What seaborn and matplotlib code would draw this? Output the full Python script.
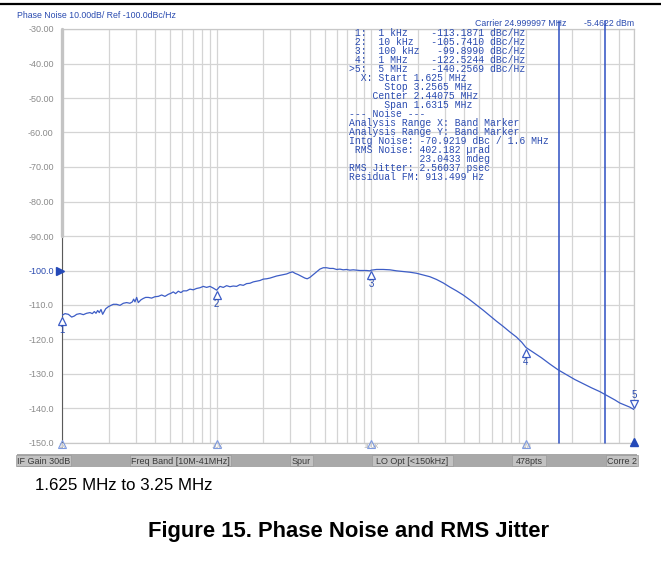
import numpy as np
import pandas as pd
import matplotlib
matplotlib.use("Agg")
import matplotlib.pyplot as plt
import matplotlib.transforms as mtransforms
from matplotlib.patches import Rectangle
from matplotlib.lines import Line2D
from matplotlib.ticker import LogLocator, NullFormatter, FixedLocator
import seaborn as sns

# ---------------- data ----------------
freq_hz = [1000, 1046, 1099, 1155, 1201, 1244, 1307, 1374, 1443, 1517, 1570, 1618, 1659, 1701,
           1743, 1787, 1832, 1878, 1916, 1993, 2074, 2147, 2256, 2371, 2491, 2618, 2751, 2849,
           2906, 2964, 3039, 3115, 3241, 3355, 3474, 3614, 3798, 3992, 4195, 4409, 4633, 4868,
           5064, 5245, 5430, 5649, 5877, 6085, 6395, 6720, 7062, 7422, 7799, 8196, 8613, 9051,
           9511, 10000, 10503, 11038, 11600, 12190, 12810, 13462, 14148, 14868, 15624, 16420,
           17255, 18134, 19057, 20026, 21045, 22116, 23241, 24424, 25666, 26972, 28345, 29787,
           30985, 32075, 33703, 35418, 37220, 38527, 40107, 42142, 44287, 46530, 48898, 51384,
           54003, 56749, 59640, 62661, 65846, 69200, 72710, 76420, 80300, 84390, 88670, 93200,
           97930, 100000, 108180, 119440, 131900, 145690, 160880, 177650, 196170, 216640,
           239210, 264200, 291740, 322210, 355800, 392900, 433900, 479200, 529000, 584300,
           645200, 712500, 786900, 869000, 940000, 1000000, 1113800, 1261000, 1427000,
           1616000, 1829000, 2071000, 2344000, 2654000, 3004000, 3237000, 3486000, 3755000,
           4046000, 4358000, 4694000, 5000000]
noise_dbc = [-113.0, -112.5, -112.7, -113.5, -113.2, -112.7, -112.5, -112.8, -112.4, -112.2,
             -112.5, -111.9, -112.4, -111.6, -112.2, -111.3, -112.7, -111.8, -111.1, -110.5,
             -110.1, -109.8, -109.8, -110.1, -109.5, -109.3, -109.5, -109.1, -108.3, -109.1,
             -107.8, -109.3, -108.5, -108.1, -107.8, -107.8, -108.0, -107.6, -107.5, -107.1,
             -107.5, -106.9, -106.6, -106.2, -106.7, -106.0, -106.4, -105.9, -105.9, -105.4,
             -105.6, -105.2, -105.0, -104.6, -104.9, -104.6, -105.1, -105.7, -104.6, -104.9,
             -104.4, -104.7, -104.5, -104.6, -104.1, -104.3, -103.8, -103.7, -103.3, -103.1,
             -102.9, -102.5, -102.4, -102.2, -101.9, -101.6, -101.4, -101.2, -101.0, -100.6,
             -100.4, -100.8, -101.2, -101.7, -102.2, -102.4, -102.0, -101.2, -100.4, -99.6,
             -99.2, -99.2, -99.4, -99.4, -99.7, -99.6, -99.8, -99.7, -99.9, -99.8, -99.9,
             -100.0, -100.0, -100.0, -100.1, -99.9, -99.7, -99.7, -99.8, -100.1, -100.3,
             -100.5, -100.8, -101.3, -101.8, -102.6, -103.6, -104.8, -105.9, -107.1, -108.5,
             -110.0, -111.5, -113.1, -114.7, -116.2, -117.8, -119.3, -120.8, -122.3, -123.7,
             -125.3, -127.1, -128.8, -130.2, -131.6, -132.8, -134.0, -135.1, -135.9, -136.7,
             -137.5, -138.4, -139.0, -139.6, -140.3]

marker_ids = ["1", "2", "3", "4", "5"]
marker_freq = [1e3, 1e4, 1e5, 1e6, 5e6]
marker_dbc = [-113.1871, -105.7410, -99.8990, -122.5244, -140.2569]

band_edges_hz = [1.625e6, 3.2565e6]

y_ticks = [-30, -40, -50, -60, -70, -80, -90, -100, -110, -120, -130, -140, -150]
y_tick_labels = ["-30.00", "-40.00", "-50.00", "-60.00", "-70.00", "-80.00", "-90.00",
                 "-100.0", "-110.0", "-120.0", "-130.0", "-140.0", "-150.0"]
x_ticks = [1e3, 1e4, 1e5, 1e6]
x_tick_labels = ["1k", "10k", "100k", "1M"]

readout_lines = [
    " 1:  1 kHz    -113.1871 dBc/Hz",
    " 2:  10 kHz   -105.7410 dBc/Hz",
    " 3:  100 kHz   -99.8990 dBc/Hz",
    " 4:  1 MHz    -122.5244 dBc/Hz",
    ">5:  5 MHz    -140.2569 dBc/Hz",
    "  X: Start 1.625 MHz",
    "      Stop 3.2565 MHz",
    "    Center 2.44075 MHz",
    "      Span 1.6315 MHz",
    "--- Noise ---",
    "Analysis Range X: Band Marker",
    "Analysis Range Y: Band Marker",
    "Intg Noise: -70.9219 dBc / 1.6 MHz",
    " RMS Noise: 402.182 \u00b5rad",
    "            23.0433 mdeg",
    "RMS Jitter: 2.56037 psec",
    "Residual FM: 913.499 Hz",
]

status_items = ["IF Gain 30dB", "Freq Band [10M-41MHz]", "Spur", "LO Opt [<150kHz]", "478pts", "Corre 2"]
status_x_px = [17, 131, 291, 373, 513, 607]
status_w_px = [53, 99, 21, 79, 32, 30]

# ---------------- style ----------------
sns.set_style("white")
plt.rcParams['font.family'] = ['Liberation Sans', 'DejaVu Sans']

W, H = 661, 563
fig = plt.figure(figsize=(W / 100, H / 100), dpi=100)
fig.patch.set_facecolor("white")

L, R, T, B = 62, 634, 29, 443
ax = fig.add_axes([L / W, 1 - B / H, (R - L) / W, (B - T) / H])

TXTBLUE = "#2a4bb0"
GRID = "#d4d4d4"

ax.set_xscale("log")
ax.set_xlim(1e3, 5e6)
ax.set_ylim(-150, -30)

df = pd.DataFrame({"freq_hz": freq_hz, "noise_dbc": noise_dbc})
sns.lineplot(data=df, x="freq_hz", y="noise_dbc", ax=ax, color="#3d5dc6",
             linewidth=0.9, estimator=None, sort=False, zorder=5)
ax.set_xlabel("")
ax.set_ylabel("")

# grid
ax.xaxis.set_major_locator(FixedLocator(x_ticks))
ax.xaxis.set_minor_locator(LogLocator(base=10, subs=np.arange(2, 10)))
ax.xaxis.set_minor_formatter(NullFormatter())
ax.set_xticklabels(x_tick_labels)
ax.set_yticks(y_ticks)
ax.set_yticklabels(y_tick_labels)
ax.grid(True, which="both", axis="x", color=GRID, linewidth=0.9)
ax.grid(True, which="major", axis="y", color=GRID, linewidth=0.9)
ax.set_axisbelow(True)

ax.tick_params(axis="y", length=0, pad=6, labelsize=6.5, labelcolor="#8a8a8a")
ax.tick_params(axis="x", which="both", length=0, pad=0, labelsize=5, labelcolor="#b0b0b0")
for lbl in ax.get_yticklabels():
    if lbl.get_text() == "-100.0":
        lbl.set_color(TXTBLUE)

for s in ["top", "right", "bottom"]:
    ax.spines[s].set_color("#c8c8c8")
    ax.spines[s].set_linewidth(0.9)
ax.spines["left"].set_color("#5a5a5a")
ax.spines["left"].set_linewidth(0.8)
# thick light left edge in upper part
ax.axvline(1e3, ymin=0.5, ymax=1.0, color="#c4c4c4", linewidth=2.4, zorder=6, clip_on=False)

# band marker lines
for bx in band_edges_hz:
    ax.axvline(bx, ymin=0, ymax=1 + 8 / (B - T), color="#2e4fc2", linewidth=1.1,
               clip_on=False, zorder=4)

# reference level arrow on left
ax.plot([1e3], [-100], marker=">", color="#2449b8", markersize=5.5, clip_on=False,
        transform=mtransforms.offset_copy(ax.transData, fig, x=-2.5, y=0, units="dots"),
        zorder=7)

# bottom axis decade markers
for xt in x_ticks:
    ax.plot([xt], [-150], marker="^", markersize=5.5, markerfacecolor="none",
            markeredgecolor="#7f9be0", markeredgewidth=0.8, clip_on=False, zorder=7,
            transform=mtransforms.offset_copy(ax.transData, fig, x=0, y=-1, units="dots"))
ax.plot([5e6], [-150], marker="^", markersize=5.5, color="#2449b8", clip_on=False, zorder=7,
        transform=mtransforms.offset_copy(ax.transData, fig, x=0, y=1, units="dots"))

# numbered markers
for mid, mf, md in zip(marker_ids, marker_freq, marker_dbc):
    if mid == "5":
        tri_tr = mtransforms.offset_copy(ax.transData, fig, x=0, y=5, units="dots")
        txt_tr = mtransforms.offset_copy(ax.transData, fig, x=0, y=14, units="dots")
        mk = "v"
    else:
        tri_tr = mtransforms.offset_copy(ax.transData, fig, x=0, y=-5, units="dots")
        txt_tr = mtransforms.offset_copy(ax.transData, fig, x=0, y=-14, units="dots")
        mk = "^"
    ax.plot([mf], [md], marker=mk, markersize=6, markerfacecolor="white",
            markeredgecolor="#3d5dc6", markeredgewidth=0.9, clip_on=False, zorder=8,
            transform=tri_tr)
    ax.text(mf, md, mid, transform=txt_tr, ha="center", va="center", fontsize=7,
            color=TXTBLUE, zorder=8, clip_on=False)

# readout block (clipped just below the plot's top edge, like the analyzer screen)
clip_rect = Rectangle((L / W, 1 - B / H), (R - L) / W, (B - 31) / H,
                      transform=fig.transFigure, facecolor="none", edgecolor="none")
fig.add_artist(clip_rect)
for i, line in enumerate(readout_lines):
    ypx = 36 + 9 * i
    t = ax.text((349 - L) / (R - L), 1 - (ypx - T) / (B - T), line, transform=ax.transAxes,
                ha="left", va="baseline", fontsize=7, color=TXTBLUE,
                family=["Liberation Mono", "DejaVu Sans Mono"], zorder=9)
    t.set_clip_path(clip_rect)

# header texts
fig.text(17 / W, 1 - 16 / H, "Phase Noise 10.00dB/ Ref -100.0dBc/Hz", ha="left", va="center",
         fontsize=6.3, color=TXTBLUE)
fig.text(566 / W, 1 - 24 / H, "Carrier 24.999997 MHz", ha="right", va="center",
         fontsize=6.3, color=TXTBLUE)
fig.text(634 / W, 1 - 24 / H, "-5.4622 dBm", ha="right", va="center",
         fontsize=6.3, color=TXTBLUE)

# top rule
fig.add_artist(Line2D([0, 1], [1 - 4 / H, 1 - 4 / H], color="black", linewidth=1.6,
                      transform=fig.transFigure))

# status bar
sb_top, sb_bot = 454, 467
fig.add_artist(Rectangle((17 / W, 1 - sb_bot / H), (637 - 17) / W, (sb_bot - sb_top) / H,
                         transform=fig.transFigure, facecolor="#a9a9a9", edgecolor="none"))
for txt, xp, wp in zip(status_items, status_x_px, status_w_px):
    fig.add_artist(Rectangle(((xp - 1) / W, 1 - (sb_bot - 1) / H), (wp + 2) / W,
                             (sb_bot - sb_top - 2) / H, transform=fig.transFigure,
                             facecolor="#c2c2c2", edgecolor="#9a9a9a", linewidth=0.5))
    fig.text((xp + wp / 2) / W, 1 - 461 / H, txt, ha="center", va="center",
             fontsize=6.5, color="#3a3a3a")

# captions
fig.text(35 / W, 1 - 485 / H, "1.625 MHz to 3.25 MHz", ha="left", va="center",
         fontsize=12.2, color="black")
fig.text(349 / W, 1 - 531 / H, "Figure 15. Phase Noise and RMS Jitter", ha="center",
         va="center", fontsize=15.8, fontweight="bold", color="black")

fig.savefig("out.png", dpi=100, facecolor="white")
